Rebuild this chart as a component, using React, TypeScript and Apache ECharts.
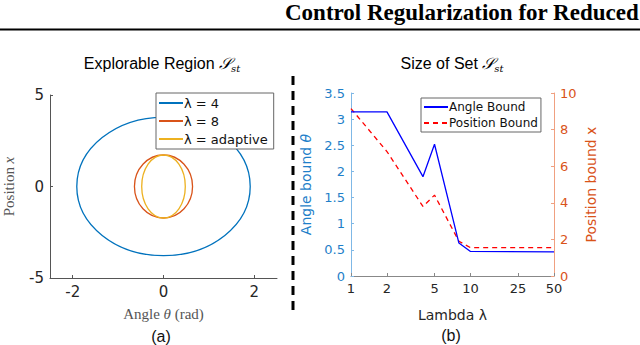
import React, { useEffect, useRef } from "react";
import * as echarts from "echarts";

// Left panel: explorable regions (ellipses centred at origin)
const ellipseNames = ["λ = 4", "λ = 8", "λ = adaptive"];
const ellipseCenterTheta = [0, 0, 0];
const ellipseCenterX = [0, 0, 0];
const ellipseRadiusTheta = [1.91, 0.64, 0.48];
const ellipseRadiusX = [3.78, 1.72, 1.72];
const ellipseColors = ["#0072BD", "#D95319", "#EDB120"];
const thetaTicks = [-2, 0, 2];

// Right panel: size of set vs lambda
const lambdaValues = [1, 2, 4, 5, 8, 10, 50];
const angleBound = [3.14, 3.14, 1.9, 2.52, 0.63, 0.47, 0.46];
const positionBound = [9.15, 6.8, 3.8, 4.42, 1.9, 1.55, 1.55];
const lambdaTicks = [1, 2, 5, 10, 25, 50];

const SANS = "DejaVu Sans";
const ARIAL = "Liberation Sans";
const SERIF = "Liberation Serif";

export default function App() {
  const ref = useRef<HTMLDivElement>(null);
  useEffect(() => {
    document.body.style.margin = "0";
    const chart = echarts.init(ref.current!, null, { renderer: "svg" });

    const ellipseSeries = ellipseNames.map((name, i) => ({
      name,
      type: "custom",
      xAxisIndex: 0,
      yAxisIndex: 0,
      clip: false,
      itemStyle: { color: ellipseColors[i] },
      encode: { x: 0, y: 1 },
      data: [[ellipseCenterTheta[i], ellipseCenterX[i], ellipseRadiusTheta[i], ellipseRadiusX[i]]],
      renderItem: (params: any, api: any) => {
        const c = api.coord([api.value(0), api.value(1)]);
        const s = api.size([api.value(2), api.value(3)]);
        return {
          type: "ellipse",
          shape: { cx: c[0], cy: c[1], rx: s[0], ry: s[1] },
          style: { fill: "none", stroke: ellipseColors[i], lineWidth: 1.3 },
          silent: true,
        };
      },
    }));

    const titleRich = (size: number) => ({
      n: { fontFamily: ARIAL, fontSize: size, color: "#111", lineHeight: 20 },
      s: { fontFamily: "DejaVu Serif", fontStyle: "italic", fontSize: size, color: "#111", lineHeight: 20 },
      sub: { fontFamily: "DejaVu Serif", fontStyle: "italic", fontSize: 10, color: "#111", lineHeight: 10, verticalAlign: "bottom" },
    });

    chart.setOption({
      animation: false,
      backgroundColor: "#ffffff",
      grid: [
        { left: 48, right: 363, top: 95, bottom: 67 },
        { left: 351, right: 86, top: 93, bottom: 69 },
      ],
      xAxis: [
        {
          type: "value",
          gridIndex: 0,
          min: -2.5,
          max: 2.5,
          name: "Angle {i|θ} (rad)",
          nameLocation: "middle",
          nameGap: 28,
          nameTextStyle: {
            fontFamily: SERIF, fontSize: 15, color: "#555",
            rich: { i: { fontFamily: SERIF, fontStyle: "italic", fontSize: 15, color: "#555" } },
          },
          axisLine: { show: true, onZero: false, lineStyle: { color: "#555", width: 1 } },
          axisTick: { show: true, inside: true, length: 3, customValues: thetaTicks, lineStyle: { color: "#555" } },
          axisLabel: { customValues: thetaTicks, fontFamily: SANS, fontSize: 15, color: "#262626", margin: 6 },
          splitLine: { show: false },
        },
        {
          type: "log",
          logBase: 10,
          gridIndex: 1,
          min: 1,
          max: 50,
          name: "Lambda λ",
          nameLocation: "middle",
          nameGap: 32,
          nameTextStyle: { fontFamily: SANS, fontSize: 14, color: "#262626" },
          axisLine: { show: true, onZero: false, lineStyle: { color: "#888", width: 1 } },
          axisTick: { show: true, inside: true, length: 3, customValues: lambdaTicks, lineStyle: { color: "#888" } },
          axisLabel: { customValues: lambdaTicks, fontFamily: SANS, fontSize: 13, color: "#262626", margin: 6 },
          splitLine: { show: false },
          minorTick: { show: false },
        },
      ],
      yAxis: [
        {
          type: "value",
          gridIndex: 0,
          min: -5,
          max: 5,
          interval: 5,
          name: "Position {i|x}",
          nameLocation: "middle",
          nameGap: 34,
          nameTextStyle: {
            fontFamily: SERIF, fontSize: 15, color: "#555",
            rich: { i: { fontFamily: SERIF, fontStyle: "italic", fontSize: 15, color: "#555" } },
          },
          axisLine: { show: true, onZero: false, lineStyle: { color: "#555", width: 1 } },
          axisTick: { show: true, inside: true, length: 3, lineStyle: { color: "#555" } },
          axisLabel: { fontFamily: SANS, fontSize: 15, color: "#262626", margin: 6 },
          splitLine: { show: false },
        },
        {
          type: "value",
          gridIndex: 1,
          position: "left",
          min: 0,
          max: 3.5,
          interval: 0.5,
          name: "Angle bound {i|θ}",
          nameLocation: "middle",
          nameGap: 38,
          nameTextStyle: {
            fontFamily: SANS, fontSize: 14, color: "#1f7fc9",
            rich: { i: { fontFamily: SANS, fontStyle: "italic", fontSize: 14, color: "#1f7fc9" } },
          },
          axisLine: { show: true, onZero: false, lineStyle: { color: "#7fb8e6", width: 1 } },
          axisTick: { show: true, inside: true, length: 3, lineStyle: { color: "#7fb8e6" } },
          axisLabel: { fontFamily: SANS, fontSize: 13, color: "#1f7fc9", margin: 6 },
          splitLine: { show: false },
        },
        {
          type: "value",
          gridIndex: 1,
          position: "right",
          min: 0,
          max: 10,
          interval: 2,
          name: "Position bound x",
          nameLocation: "middle",
          nameGap: 30,
          nameRotate: 90,
          nameTextStyle: { fontFamily: SANS, fontSize: 14, color: "#D95319" },
          axisLine: { show: true, onZero: false, lineStyle: { color: "#f0a080", width: 1 } },
          axisTick: { show: true, inside: true, length: 3, lineStyle: { color: "#f0a080" } },
          axisLabel: { fontFamily: SANS, fontSize: 13, color: "#D95319", margin: 6 },
          splitLine: { show: false },
        },
      ],
      legend: [
        {
          data: ellipseNames.map((n) => ({ name: n, icon: "rect" })),
          orient: "vertical",
          left: 156,
          top: 93,
          itemWidth: 24,
          itemHeight: 2,
          itemGap: 4,
          padding: [3, 6, 3, 3],
          borderColor: "#666",
          borderWidth: 1,
          borderRadius: 0,
          backgroundColor: "#fff",
          textStyle: { fontFamily: SANS, fontSize: 13, color: "#111", lineHeight: 14, padding: [0, 0, 0, -4] },
          selectedMode: false,
        },
        {
          data: [
            { name: "Angle Bound", itemStyle: { opacity: 0 } },
            { name: "Position Bound", itemStyle: { opacity: 0 } },
          ],
          orient: "vertical",
          left: 421,
          top: 98,
          itemWidth: 24,
          itemHeight: 2,
          itemGap: 2,
          padding: [2, 3, 2, 2],
          borderColor: "#666",
          borderWidth: 1,
          borderRadius: 0,
          backgroundColor: "#fff",
          textStyle: { fontFamily: SANS, fontSize: 12, color: "#111", lineHeight: 14, padding: [0, 0, 0, -4] },
          selectedMode: false,
        },
      ],
      series: [
        ...ellipseSeries,
        {
          name: "Angle Bound",
          type: "line",
          xAxisIndex: 1,
          yAxisIndex: 1,
          symbol: "none",
          color: "#0000ff",
          lineStyle: { color: "#0000ff", width: 1.3 },
          data: lambdaValues.map((l, i) => [l, angleBound[i]]),
          z: 3,
        },
        {
          name: "Position Bound",
          type: "line",
          xAxisIndex: 1,
          yAxisIndex: 2,
          symbol: "none",
          color: "#ff0000",
          lineStyle: { color: "#ff0000", width: 1.3, type: [5, 4] },
          data: lambdaValues.map((l, i) => [l, positionBound[i]]),
          z: 2,
        },
      ],
      graphic: [
        {
          type: "text",
          x: 285,
          y: 12,
          style: { text: "Control Regularization for Reduced", fontFamily: SERIF, fontWeight: "bold", fontSize: 23, fill: "#000", verticalAlign: "middle" },
        },
        {
          type: "line",
          shape: { x1: 0, y1: 29.5, x2: 640, y2: 29.5 },
          style: { stroke: "#000", lineWidth: 2 },
        },
        {
          type: "line",
          shape: { x1: 293, y1: 76, x2: 293, y2: 313 },
          style: { stroke: "#000", lineWidth: 3, lineDash: [9, 6] },
        },
        {
          type: "text",
          x: 162,
          y: 63,
          style: {
            text: "{n|Explorable Region }{s|𝒮}{sub|st}",
            rich: titleRich(16),
            align: "center",
            verticalAlign: "middle",
          },
        },
        {
          type: "text",
          x: 452,
          y: 63,
          style: {
            text: "{n|Size of Set }{s|𝒮}{sub|st}",
            rich: titleRich(16),
            align: "center",
            verticalAlign: "middle",
          },
        },
        {
          type: "text",
          x: 161,
          y: 336,
          style: { text: "(a)", fontFamily: ARIAL, fontSize: 16, fill: "#111", align: "center", verticalAlign: "middle" },
        },
        {
          type: "text",
          x: 451,
          y: 335,
          style: { text: "(b)", fontFamily: ARIAL, fontSize: 16, fill: "#111", align: "center", verticalAlign: "middle" },
        },
      ],
    });
    return () => chart.dispose();
  }, []);
  return <div ref={ref} style={{ width: 640, height: 345 }} />;
}
